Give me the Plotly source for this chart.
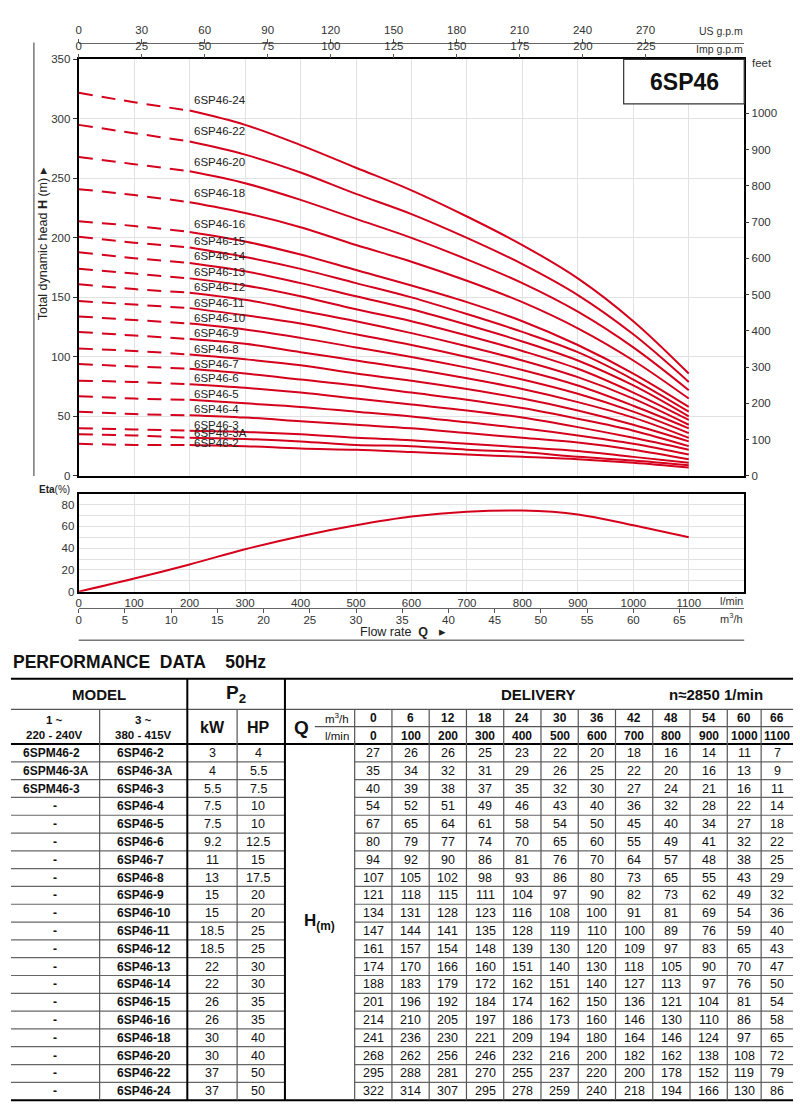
import plotly.graph_objects as go

# ---------------- data ----------------
Q_LMIN = [0, 100, 200, 300, 400, 500, 600, 700, 800, 900, 1000, 1100]
Q_M3H = [0, 6, 12, 18, 24, 30, 36, 42, 48, 54, 60, 66]

MODEL_1PH = ["6SPM46-2", "6SPM46-3A", "6SPM46-3"] + ["-"] * 17
MODEL_3PH = ["6SP46-2", "6SP46-3A", "6SP46-3", "6SP46-4", "6SP46-5", "6SP46-6",
             "6SP46-7", "6SP46-8", "6SP46-9", "6SP46-10", "6SP46-11", "6SP46-12",
             "6SP46-13", "6SP46-14", "6SP46-15", "6SP46-16", "6SP46-18", "6SP46-20",
             "6SP46-22", "6SP46-24"]
P2_KW = [3, 4, 5.5, 7.5, 7.5, 9.2, 11, 13, 15, 15, 18.5, 18.5, 22, 22, 26, 26, 30, 30, 37, 37]
P2_HP = [4, 5.5, 7.5, 10, 10, 12.5, 15, 17.5, 20, 20, 25, 25, 30, 30, 35, 35, 40, 40, 50, 50]

H_2 = [27, 26, 26, 25, 23, 22, 20, 18, 16, 14, 11, 7]
H_3A = [35, 34, 32, 31, 29, 26, 25, 22, 20, 16, 13, 9]
H_3 = [40, 39, 38, 37, 35, 32, 30, 27, 24, 21, 16, 11]
H_4 = [54, 52, 51, 49, 46, 43, 40, 36, 32, 28, 22, 14]
H_5 = [67, 65, 64, 61, 58, 54, 50, 45, 40, 34, 27, 18]
H_6 = [80, 79, 77, 74, 70, 65, 60, 55, 49, 41, 32, 22]
H_7 = [94, 92, 90, 86, 81, 76, 70, 64, 57, 48, 38, 25]
H_8 = [107, 105, 102, 98, 93, 86, 80, 73, 65, 55, 43, 29]
H_9 = [121, 118, 115, 111, 104, 97, 90, 82, 73, 62, 49, 32]
H_10 = [134, 131, 128, 123, 116, 108, 100, 91, 81, 69, 54, 36]
H_11 = [147, 144, 141, 135, 128, 119, 110, 100, 89, 76, 59, 40]
H_12 = [161, 157, 154, 148, 139, 130, 120, 109, 97, 83, 65, 43]
H_13 = [174, 170, 166, 160, 151, 140, 130, 118, 105, 90, 70, 47]
H_14 = [188, 183, 179, 172, 162, 151, 140, 127, 113, 97, 76, 50]
H_15 = [201, 196, 192, 184, 174, 162, 150, 136, 121, 104, 81, 54]
H_16 = [214, 210, 205, 197, 186, 173, 160, 146, 130, 110, 86, 58]
H_18 = [241, 236, 230, 221, 209, 194, 180, 164, 146, 124, 97, 65]
H_20 = [268, 262, 256, 246, 232, 216, 200, 182, 162, 138, 108, 72]
H_22 = [295, 288, 281, 270, 255, 237, 220, 200, 178, 152, 119, 79]
H_24 = [322, 314, 307, 295, 278, 259, 240, 218, 194, 166, 130, 86]
HEADS = [H_2, H_3A, H_3, H_4, H_5, H_6, H_7, H_8, H_9, H_10, H_11, H_12,
         H_13, H_14, H_15, H_16, H_18, H_20, H_22, H_24]

ETA = [0, 12, 25, 39, 51, 61, 69, 73.5, 74.5, 71, 61, 50]

US_GPM_TICKS = list(range(0, 271, 30))
IMP_GPM_TICKS = list(range(0, 226, 25))
M3H_TICKS = list(range(0, 66, 5))
LMIN_TICKS = list(range(0, 1101, 100))
FEET_TICKS = list(range(0, 1001, 100))
H_TICKS = list(range(0, 351, 50))
ETA_TICKS = [0, 20, 40, 60, 80]

LMIN_TO_USGPM = 0.264172
LMIN_TO_IMPGPM = 0.219969
LMIN_TO_M3H = 0.06
M_TO_FT = 3.28084
Q_MAX = 1200
H_MAX = 350
ETA_MAX = 90

# ---------------- styling / geometry ----------------
RED = "#d5001c"
GRID = "#e2e2e2"
FONT = "Liberation Sans, Arial, Helvetica, sans-serif"
TXT = "#222222"
W, HT = 800, 1119
LABEL_NUDGE = {"6SP46-3": 3, "6SP46-4": 3, "6SP46-5": 3, "6SP46-6": 2}


def fx(px):
    return px / W


def fy(py):
    return 1 - py / HT


PL, PR = 76, 744
TOP_T, TOP_B = 54, 475
ETA_T, ETA_B = 493, 592
TICKFONT = dict(family=FONT, size=11.5, color="#333333")

fig = go.Figure()

# head curves
for name, h in zip(MODEL_3PH, HEADS):
    fig.add_trace(go.Scatter(x=Q_LMIN[:3], y=h[:3], mode="lines",
                             line=dict(color=RED, width=2, dash="14px,9px", shape="spline"),
                             hoverinfo="skip", showlegend=False))
    fig.add_trace(go.Scatter(x=Q_LMIN[2:], y=h[2:], mode="lines",
                             line=dict(color=RED, width=2, shape="spline", smoothing=1),
                             hoverinfo="skip", showlegend=False))
    fig.add_annotation(x=205, y=h[1], xref="x", yref="y", text=name, showarrow=False,
                       xanchor="left", yanchor="middle", yshift=2 + LABEL_NUDGE.get(name, 0),
                       font=dict(family=FONT, size=11.5, color=TXT))

# efficiency curve
fig.add_trace(go.Scatter(x=Q_LMIN, y=ETA, xaxis="x2", yaxis="y3", mode="lines",
                         line=dict(color=RED, width=2, shape="spline", smoothing=1),
                         hoverinfo="skip", showlegend=False))

# invisible traces registering the secondary unit axes
fig.add_trace(go.Scatter(x=[q * LMIN_TO_USGPM for q in Q_LMIN], y=H_24, xaxis="x3", yaxis="y",
                         mode="markers", marker=dict(opacity=0), hoverinfo="skip", showlegend=False))
fig.add_trace(go.Scatter(x=[q * LMIN_TO_IMPGPM for q in Q_LMIN], y=H_24, xaxis="x4", yaxis="y",
                         mode="markers", marker=dict(opacity=0), hoverinfo="skip", showlegend=False))
fig.add_trace(go.Scatter(x=Q_LMIN, y=[h * M_TO_FT for h in H_24], xaxis="x", yaxis="y2",
                         mode="markers", marker=dict(opacity=0), hoverinfo="skip", showlegend=False))
fig.add_trace(go.Scatter(x=[q * LMIN_TO_M3H for q in Q_LMIN], y=ETA, xaxis="x5", yaxis="y3",
                         mode="markers", marker=dict(opacity=0), hoverinfo="skip", showlegend=False))

box = dict(showline=True, mirror=True, linecolor="black", linewidth=2, zeroline=False)

fig.update_layout(
    width=W, height=HT, margin=dict(l=0, r=0, t=0, b=0),
    paper_bgcolor="white", plot_bgcolor="white", showlegend=False,
    font=dict(family=FONT, color=TXT),
    xaxis=dict(domain=[fx(PL), fx(PR)], range=[0, Q_MAX], anchor="y", tickvals=LMIN_TICKS,
               showticklabels=False, ticks="", showgrid=True, gridcolor=GRID, gridwidth=1, **box),
    yaxis=dict(domain=[fy(TOP_B), fy(TOP_T)], range=[0, H_MAX], anchor="x", tickvals=H_TICKS,
               showgrid=True, gridcolor=GRID, ticks="outside", ticklen=4, tickcolor="#333",
               tickfont=TICKFONT, **box),
    yaxis2=dict(overlaying="y", side="right", anchor="x", range=[0, H_MAX * M_TO_FT],
                tickvals=FEET_TICKS, ticks="outside", ticklen=4, tickcolor="#333",
                showgrid=False, zeroline=False, showline=False, tickfont=TICKFONT),
    xaxis3=dict(overlaying="x", side="top", anchor="free", position=fy(37),
                range=[0, Q_MAX * LMIN_TO_USGPM], tickvals=US_GPM_TICKS, ticks="outside",
                ticklen=4, tickcolor="#555", showline=True, linecolor="#666", linewidth=1,
                showgrid=False, zeroline=False, tickfont=TICKFONT),
    xaxis4=dict(overlaying="x", side="top", anchor="y", range=[0, Q_MAX * LMIN_TO_IMPGPM],
                tickvals=IMP_GPM_TICKS, ticks="outside", ticklen=4, tickcolor="#555",
                showline=False, showgrid=False, zeroline=False, tickfont=TICKFONT),
    xaxis2=dict(domain=[fx(PL), fx(PR)], range=[0, Q_MAX], anchor="y3", tickvals=LMIN_TICKS,
                ticks="", showgrid=True, gridcolor=GRID, tickfont=TICKFONT, **box),
    yaxis3=dict(domain=[fy(ETA_B), fy(ETA_T)], range=[0, ETA_MAX], anchor="x2", tickvals=ETA_TICKS,
                showgrid=True, gridcolor=GRID, ticks="", tickfont=TICKFONT,
                minor=dict(dtick=10, showgrid=True, gridcolor=GRID), **box),
    xaxis5=dict(overlaying="x2", side="bottom", anchor="free", position=fy(609),
                range=[0, Q_MAX * LMIN_TO_M3H], tickvals=M3H_TICKS, ticks="outside", ticklen=4,
                ticklabelstandoff=-3, tickcolor="#555", showline=True, linecolor="#666",
                linewidth=1, showgrid=False, zeroline=False, tickfont=TICKFONT),
)


def line(x0, y0, x1, y1, color="#666", width=1.0):
    fig.add_shape(type="line", xref="paper", yref="paper", x0=fx(x0), y0=fy(y0),
                  x1=fx(x1), y1=fy(y1), line=dict(color=color, width=width))


def text(x, y, s, size=12.5, bold=False, anchor="center", color="#111", angle=0):
    fig.add_annotation(xref="paper", yref="paper", x=fx(x), y=fy(y),
                       text=f"<b>{s}</b>" if bold else s, showarrow=False,
                       xanchor=anchor, yanchor="middle", textangle=angle,
                       font=dict(family=FONT, size=size, color=color))


# chart decorations
fig.add_shape(type="rect", xref="paper", yref="paper", x0=fx(623), x1=fx(PR), y0=fy(99), y1=fy(TOP_T),
              fillcolor="white", line=dict(color="#333", width=1.2), layer="above")
text(684, 77, "6SP46", size=23, bold=True)
text(745, 25, "US g.p.m", size=10.5, anchor="right", color="#333")
text(745, 43, "Imp g.p.m", size=10.5, anchor="right", color="#333")
text(750, 58, "feet", size=11.5, anchor="left", color="#333")
text(745, 601, "l/min", size=11, anchor="right", color="#333")
text(745, 619, "m<sup>3</sup>/h", size=11, anchor="right", color="#333")
text(402, 633, "Flow rate\u00a0\u00a0<b>Q</b>\u00a0\u00a0\u00a0▸", size=12.5, color="#222")
text(34, 489, "<b>Eta</b>(%)", size=10, anchor="left", color="#222")
text(41, 240, "Total dynamic head <b>H</b> (m) ▸", size=12.5, color="#222", angle=-90)
line(31, 37, 31, TOP_B, color="#777", width=1.5)
line(PL, 641, PR, 641, color="#777", width=1.5)

# ---------------- performance table ----------------
text(8, 663, "PERFORMANCE\u00a0\u00a0DATA\u00a0\u00a0\u00a0\u00a050Hz", size=17.5, bold=True, anchor="left")

T_L, T_R = 8, 793
T_TOP, T_H1, T_MID, T_H2 = 680, 711, 728.5, 746
ROW_H = 18
N = len(MODEL_3PH)
T_BOT = T_H2 + ROW_H * N
VAL_EDGES = [353 + 37.4 * i for i in range(11)] + [761, T_R]
VAL_CX = [(a + b) / 2 for a, b in zip(VAL_EDGES[:-1], VAL_EDGES[1:])]
KW_X, HP_X = 210, 256

line(T_L, T_TOP, T_R, T_TOP, color="black", width=2)
line(T_L, T_H1, T_R, T_H1, color="#555", width=1.2)
line(313, T_MID, T_R, T_MID, color="#555", width=1.2)
line(T_L, T_H2, T_R, T_H2, color="black", width=2)
line(T_L, T_BOT, T_R, T_BOT, color="black", width=2)
for i in range(1, N):
    yy = T_H2 + ROW_H * i
    line(T_L, yy, 283, yy, color="#666", width=1.2)
    line(353, yy, T_R, yy, color="#666", width=1.2)
for xx in (97, 235):
    line(xx, T_H1, xx, T_BOT, color="#555", width=1.2)
for xx in (185, 283):
    line(xx, T_TOP, xx, T_BOT, color="black", width=2)
for xx in VAL_EDGES[:-1]:
    line(xx, T_H1, xx, T_BOT, color="#555", width=1.2)

text(96, 695.5, "MODEL", size=15, bold=True)
text(234, 695, "P<sub>2</sub>", size=19, bold=True)
text(537, 695.5, "DELIVERY", size=15, bold=True)
text(716, 695.5, "n≈2850 1/min", size=15, bold=True)
text(52, 729, "1 ~<br>220 - 240V", size=11.5, bold=True)
text(141, 729, "3 ~<br>380 - 415V", size=11.5, bold=True)
text(KW_X, 729, "kW", size=16, bold=True)
text(HP_X, 729, "HP", size=16, bold=True)
text(300, 729, "Q", size=19, bold=True)
text(335, 720, "m<sup>3</sup>/h", size=11.5)
text(335, 738, "l/min", size=11.5)
for cx, qm, ql in zip(VAL_CX, Q_M3H, Q_LMIN):
    text(cx, 720, str(qm), size=12, bold=True)
    text(cx, 738, str(ql), size=12, bold=True)
text(318, (T_H2 + T_BOT) / 2, "H<sub>(m)</sub>", size=17, bold=True)

for i, (m1, m3, kw, hp, h) in enumerate(zip(MODEL_1PH, MODEL_3PH, P2_KW, P2_HP, HEADS)):
    yy = T_H2 + ROW_H * (i + 0.5)
    if m1 == "-":
        text(52, yy, m1, size=12, bold=True)
    else:
        text(18, yy, m1, size=12, bold=True, anchor="left")
    text(112, yy, m3, size=12, bold=True, anchor="left")
    text(KW_X, yy, f"{kw:g}", size=12.5)
    text(HP_X, yy, f"{hp:g}", size=12.5)
    for cx, v in zip(VAL_CX, h):
        text(cx, yy, str(v), size=12.5)

fig.write_html("out.html")
